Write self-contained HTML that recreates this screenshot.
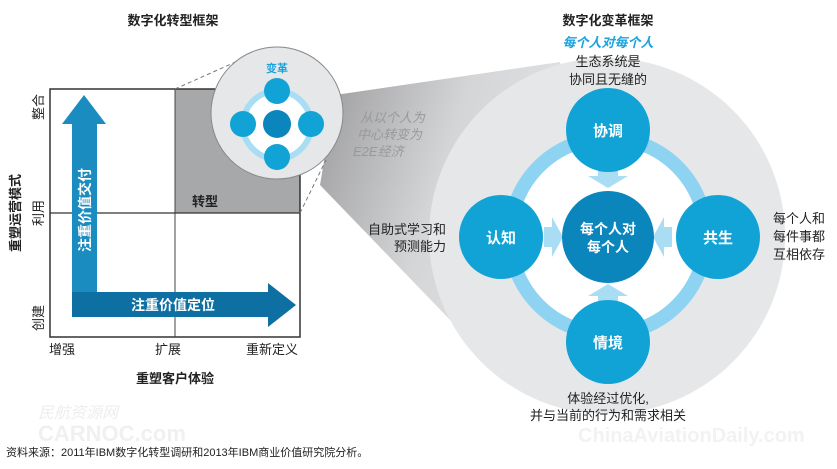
<!DOCTYPE html>
<html><head><meta charset="utf-8"><style>
body{margin:0;background:#fff;width:837px;height:464px;overflow:hidden;font-family:"Liberation Sans","Noto Sans CJK SC",sans-serif}
</style></head><body>
<svg width="837" height="464" viewBox="0 0 837 464" xmlns="http://www.w3.org/2000/svg" style="font-family:'Liberation Sans','Noto Sans CJK SC',sans-serif">
<defs>
<linearGradient id="cone" x1="0" y1="0" x2="1" y2="0.3">
<stop offset="0" stop-color="#9a9a9c"/><stop offset="0.5" stop-color="#d4d5d7"/><stop offset="1" stop-color="#e6e7e8"/></linearGradient>
</defs>
<!-- cone -->
<polygon points="335,95 560,62 607,236 455,325 320,185" fill="url(#cone)"/>
<!-- big circle -->
<circle cx="607" cy="236" r="178" fill="#e6e7e8"/>
<!-- ring -->
<circle cx="608" cy="236" r="98" fill="#fff" stroke="#8fd3f2" stroke-width="14"/>
<!-- arrows to center -->
<g fill="#a9ddf4">
<polygon points="598,168 618,168 618,176 628,176 608,188 588,176 598,176"/>
<polygon points="598,304 618,304 618,296 628,296 608,284 588,296 598,296"/>
<polygon points="544,227 544,247 552,247 552,257 563,237 552,217 552,227"/>
<polygon points="672,227 672,247 664,247 664,257 653,237 664,217 664,227"/>
</g>
<g fill="#12a3d6">
<circle cx="608" cy="130" r="42"/><circle cx="501" cy="237" r="42"/>
<circle cx="718" cy="237" r="42"/><circle cx="608" cy="342" r="42"/>
</g>
<circle cx="608" cy="237" r="46" fill="#0b86bd"/>
<g fill="#fff" font-weight="bold" font-size="15" text-anchor="middle">
<text x="608" y="136">协调</text><text x="501" y="243">认知</text>
<text x="718" y="243">共生</text><text x="608" y="348">情境</text>
<text x="608" y="234" font-size="14">每个人对</text><text x="608" y="252" font-size="14">每个人</text>
</g>
<text x="608" y="25" font-size="13" font-weight="bold" text-anchor="middle" fill="#222">数字化变革框架</text>
<text x="608" y="47" font-size="13" font-weight="bold" font-style="italic" text-anchor="middle" fill="#1aa3dd">每个人对每个人</text>
<g font-size="13" fill="#222">
<text x="608" y="66" text-anchor="middle">生态系统是</text>
<text x="608" y="84" text-anchor="middle">协同且无缝的</text>
<text x="446" y="234" text-anchor="end">自助式学习和</text>
<text x="446" y="251" text-anchor="end">预测能力</text>
<text x="773" y="223">每个人和</text>
<text x="773" y="241">每件事都</text>
<text x="773" y="259">互相依存</text>
<text x="608" y="403" text-anchor="middle">体验经过优化,</text>
<text x="608" y="420" text-anchor="middle">并与当前的行为和需求相关</text>
</g>
<g font-size="13" fill="#999" font-style="italic">
<text x="360" y="122">从以个人为</text>
<text x="357" y="139">中心转变为</text>
<text x="353" y="156">E2E经济</text>
</g>
<!-- left grid -->
<text x="173" y="25" font-size="13" font-weight="bold" text-anchor="middle" fill="#222">数字化转型框架</text>
<rect x="175" y="89" width="125" height="124" fill="#a7a8aa"/>
<rect x="50" y="89" width="250" height="248" fill="none" stroke="#333" stroke-width="1.5"/>
<line x1="175" y1="89" x2="175" y2="337" stroke="#444" stroke-width="1"/>
<line x1="50" y1="213" x2="300" y2="213" stroke="#333" stroke-width="1.2"/>
<text x="205" y="206" font-size="13" font-weight="bold" text-anchor="middle" fill="#222">转型</text>
<line x1="175" y1="89" x2="240" y2="60" stroke="#777" stroke-dasharray="4,3"/>
<line x1="300" y1="213" x2="326" y2="160" stroke="#777" stroke-dasharray="4,3"/>
<circle cx="277" cy="113" r="66" fill="#e6e7e8" stroke="#888" stroke-width="1"/>
<text x="277" y="72" font-size="11" font-weight="bold" text-anchor="middle" fill="#1aa3dd">变革</text>
<circle cx="277" cy="125" r="34" fill="#fff" stroke="#a9ddf4" stroke-width="6"/>
<g fill="#12a3d6"><circle cx="277" cy="91" r="13"/><circle cx="277" cy="157" r="13"/><circle cx="243" cy="124" r="13"/><circle cx="311" cy="124" r="13"/></g>
<circle cx="277" cy="124" r="14" fill="#0b86bd"/>
<!-- arrows -->
<polygon points="72,292 72,124 62,124 84,95 106,124 97,124 97,292" fill="#1a8cc0"/>
<polygon points="72,292 268,292 268,283 296,305 268,327 268,317 72,317" fill="#0e6fa3"/>
<text transform="translate(90,210) rotate(-90)" font-size="14" font-weight="bold" fill="#fff" text-anchor="middle">注重价值交付</text>
<text x="173" y="310" font-size="14" font-weight="bold" fill="#fff" text-anchor="middle">注重价值定位</text>
<!-- axis labels -->
<g font-size="13" fill="#222">
<text transform="translate(43,107) rotate(-90)" text-anchor="middle">整合</text>
<text transform="translate(43,213) rotate(-90)" text-anchor="middle">利用</text>
<text transform="translate(43,318) rotate(-90)" text-anchor="middle">创建</text>
<text x="62" y="354" text-anchor="middle">增强</text>
<text x="168" y="354" text-anchor="middle">扩展</text>
<text x="272" y="354" text-anchor="middle">重新定义</text>
</g>
<text transform="translate(20,213) rotate(-90)" font-size="13" font-weight="bold" text-anchor="middle" fill="#222">重塑运营模式</text>
<text x="175" y="383" font-size="13" font-weight="bold" text-anchor="middle" fill="#222">重塑客户体验</text>
<!-- watermarks -->
<text x="38" y="418" font-size="16" fill="#eeeeee" font-style="italic">民航资源网</text>
<text x="38" y="441" font-size="22" font-weight="bold" fill="#f0f0f0">CARNOC.com</text>
<text x="578" y="442" font-size="20" font-weight="bold" fill="#f2f2f2">ChinaAviationDaily.com</text>
<text x="6" y="456" font-size="11" fill="#222">资料来源：2011年IBM数字化转型调研和2013年IBM商业价值研究院分析。</text>
</svg>
</body></html>
